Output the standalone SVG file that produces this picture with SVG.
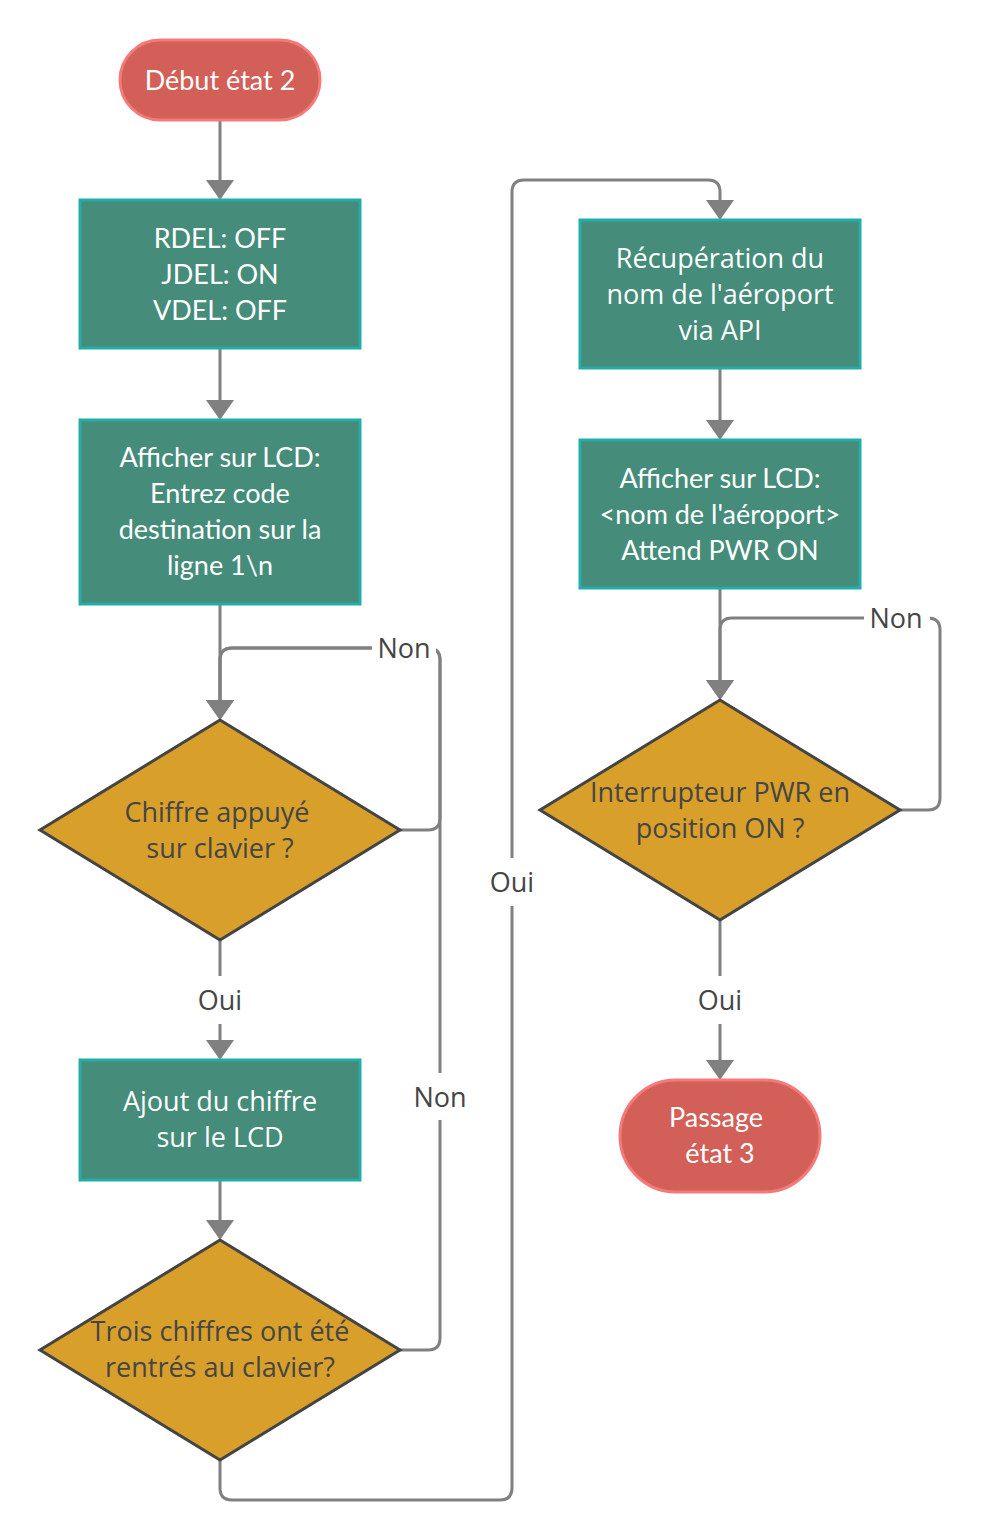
<svg xmlns="http://www.w3.org/2000/svg" width="981" height="1540" viewBox="0 0 981 1540">
<style>
.term{fill:#D25F58;stroke:#F47A78;stroke-width:3}
.proc{fill:#458C7A;stroke:#22ADA8;stroke-width:3}
.dec{fill:#D8A02A;stroke:#444444;stroke-width:3;stroke-linejoin:miter}
.conn{fill:none;stroke:#808080;stroke-width:3}
.lbg{fill:#FFFFFF}
.wl{font-family:Lato,"Liberation Sans",sans-serif;font-size:27px;fill:#FFFFFF;text-anchor:middle}
.wo{font-family:"Open Sans","Liberation Sans",sans-serif;font-size:27px;fill:#FFFFFF;text-anchor:middle}
.dt{font-family:"Open Sans","Liberation Sans",sans-serif;font-size:27px;fill:#454545;text-anchor:middle}
.lbl{font-family:"Open Sans","Liberation Sans",sans-serif;font-size:27px;fill:#454545;text-anchor:middle}
</style>
<defs>
<marker id="arr" viewBox="0 0 20 28" refX="17" refY="14" markerWidth="20" markerHeight="28" markerUnits="userSpaceOnUse" orient="auto">
<path d="M0,0 L20,14 L0,28 Z" fill="#808080"/>
</marker>
</defs>
<rect width="981" height="1540" fill="#FFFFFF"/>
<g id="connectors">
<path class="conn" d="M220,121 V197" marker-end="url(#arr)"/>
<path class="conn" d="M220,348 V417" marker-end="url(#arr)"/>
<path class="conn" d="M220,604 V717" marker-end="url(#arr)"/>
<path class="conn" d="M400,830 H428 Q440,830 440,818 V660 Q440,648 428,648 H232 Q220,648 220,660 V717" marker-end="url(#arr)"/>
<path class="conn" d="M220,940 V1057" marker-end="url(#arr)"/>
<path class="conn" d="M220,1180 V1237" marker-end="url(#arr)"/>
<path class="conn" d="M400,1350 H428 Q440,1350 440,1338 V660 Q440,648 428,648 H232 Q220,648 220,660 V717" marker-end="url(#arr)"/>
<path class="conn" d="M220,1460 V1488 Q220,1500 232,1500 H500 Q512,1500 512,1488 V192 Q512,180 524,180 H708 Q720,180 720,192 V217" marker-end="url(#arr)"/>
<path class="conn" d="M720,368 V437" marker-end="url(#arr)"/>
<path class="conn" d="M720,588 V697" marker-end="url(#arr)"/>
<path class="conn" d="M900,810 H928 Q940,810 940,798 V630 Q940,618 928,618 H732 Q720,618 720,630 V697" marker-end="url(#arr)"/>
<path class="conn" d="M720,920 V1077" marker-end="url(#arr)"/>
<g id="labels">
<rect class="lbg" x="372" y="628" width="64" height="40"/>
<text class="lbl" x="404" y="658">Non</text>
<rect class="lbg" x="196" y="976" width="48" height="48"/>
<text class="lbl" x="220" y="1010">Oui</text>
<rect class="lbg" x="412" y="1073" width="56" height="47"/>
<text class="lbl" x="440" y="1107">Non</text>
<rect class="lbg" x="488" y="858" width="48" height="48"/>
<text class="lbl" x="512" y="892">Oui</text>
<rect class="lbg" x="864" y="598" width="66" height="40"/>
<text class="lbl" x="896" y="628">Non</text>
<rect class="lbg" x="696" y="976" width="48" height="48"/>
<text class="lbl" x="720" y="1010">Oui</text>
</g>
</g>
<g id="start">
<rect class="term" x="120" y="40" width="200" height="80" rx="40" ry="40"/>
<text class="wl" x="220" y="90">Début état 2</text>
</g>
<g id="leds">
<rect class="proc" x="80" y="200" width="280" height="148"/>
<text class="wl" x="220" y="248">RDEL: OFF</text>
<text class="wl" x="220" y="284">JDEL: ON</text>
<text class="wl" x="220" y="320">VDEL: OFF</text>
</g>
<g id="lcd1">
<rect class="proc" x="80" y="420" width="280" height="184"/>
<text class="wl" x="220" y="467">Afficher sur LCD:</text>
<text class="wl" x="220" y="503">Entrez code</text>
<text class="wl" x="220" y="539">destination sur la</text>
<text class="wl" x="220" y="575">ligne 1\n</text>
</g>
<g id="dec1">
<polygon class="dec" points="220,720 400,830 220,940 40,830"/>
<text class="dt" x="217" y="822">Chiffre appuyé</text>
<text class="dt" x="220" y="858">sur clavier ?</text>
</g>
<g id="ajout">
<rect class="proc" x="80" y="1060" width="280" height="120"/>
<text class="wo" x="220" y="1111">Ajout du chiffre</text>
<text class="wo" x="220" y="1147">sur le LCD</text>
</g>
<g id="dec2">
<polygon class="dec" points="220,1240 400,1350 220,1460 40,1350"/>
<text class="dt" x="220" y="1341">Trois chiffres ont été</text>
<text class="dt" x="220" y="1377">rentrés au clavier?</text>
</g>
<g id="api">
<rect class="proc" x="580" y="220" width="280" height="148"/>
<text class="wo" x="720" y="268">Récupération du</text>
<text class="wo" x="720" y="304">nom de l'aéroport</text>
<text class="wo" x="720" y="340">via API</text>
</g>
<g id="lcd2">
<rect class="proc" x="580" y="440" width="280" height="148"/>
<text class="wl" x="720" y="488">Afficher sur LCD:</text>
<text class="wl" x="720" y="524">&lt;nom de l'aéroport&gt;</text>
<text class="wl" x="720" y="560">Attend PWR ON</text>
</g>
<g id="dec3">
<polygon class="dec" points="720,700 900,810 720,920 540,810"/>
<text class="dt" x="720" y="802">Interrupteur PWR en</text>
<text class="dt" x="720" y="838">position ON ?</text>
</g>
<g id="end">
<rect class="term" x="620" y="1080" width="200" height="112" rx="56" ry="56"/>
<text class="wl" x="716" y="1127">Passage</text>
<text class="wl" x="720" y="1163">état 3</text>
</g>
</svg>
